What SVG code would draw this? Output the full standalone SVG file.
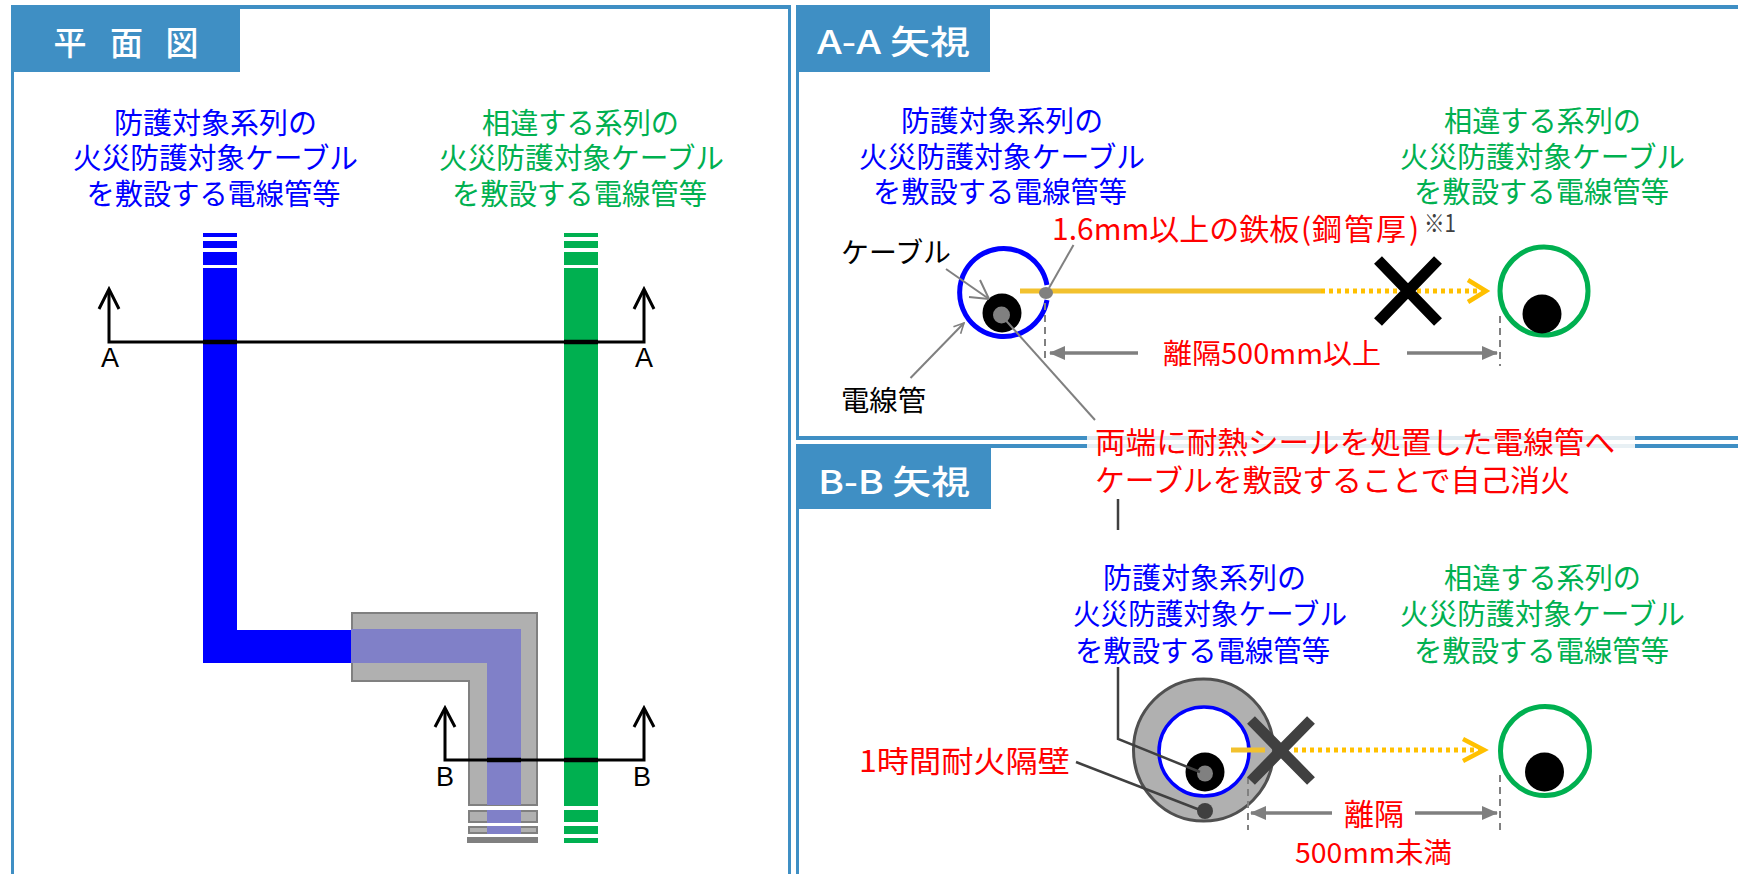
<svg xmlns="http://www.w3.org/2000/svg" width="1738" height="874" viewBox="0 0 1738 874">
<defs>
<marker id="open" viewBox="0 0 12 12" refX="11" refY="6" markerWidth="12" markerHeight="12" markerUnits="userSpaceOnUse" orient="auto"><path d="M1 1L11 6L1 11" fill="none" stroke="#808080" stroke-width="1.6"/></marker>
<marker id="solid" viewBox="0 0 16 14" refX="15" refY="7" markerWidth="16" markerHeight="14" markerUnits="userSpaceOnUse" orient="auto"><path d="M0 0L16 7L0 14Z" fill="#7f7f7f"/></marker>
</defs>
<style>
text{font-family:"Noto Sans CJK JP","Noto Sans",sans-serif;dominant-baseline:central}
.m{text-anchor:middle}
.b{fill:#0000ff;font-size:29px}.g{fill:#00b050;font-size:29px}.r{fill:#ff0000;font-size:30px}.r28{fill:#ff0000;font-size:28px}.k{fill:#000;font-size:28px}
.h{fill:#fff;font-size:33px;font-weight:500}
.s{font-family:"Liberation Sans",Arial,sans-serif;font-size:27px;fill:#000}
.frame{fill:#3f8fc4}
.sl{fill:none;stroke:#000;stroke-width:3}
.lead{fill:none;stroke:#808080;stroke-width:2}
.dark{fill:none;stroke:#404040;stroke-width:2.5}
.dash{fill:none;stroke:#808080;stroke-width:2;stroke-dasharray:7 5}
.dim{fill:none;stroke:#7f7f7f;stroke-width:3.5}
.og{fill:none;stroke:#f2c12e;stroke-width:5}
.od{fill:none;stroke:#ffc000;stroke-width:5;stroke-dasharray:4 4}
.oh{fill:none;stroke:#ffc000;stroke-width:4.5}
</style>
<rect width="1738" height="874" fill="#fff"/>

<g id="frames">
<rect class="frame" x="11" y="5" width="780" height="4"/>
<rect class="frame" x="11" y="5" width="3" height="869"/>
<rect class="frame" x="788" y="5" width="3" height="869"/>
<rect class="frame" x="796" y="5" width="942" height="4"/>
<rect class="frame" x="796" y="5" width="3" height="434"/>
<rect class="frame" x="796" y="436" width="291" height="4"/>
<rect class="frame" x="1635" y="436" width="103" height="4"/>
<rect class="frame" x="796" y="444" width="291" height="4"/>
<rect class="frame" x="1635" y="444" width="103" height="4"/>
<rect class="frame" x="796" y="444" width="3" height="430"/>
<rect x="1087" y="436" width="548" height="4" fill="#dfeaf0"/>
<rect x="1087" y="444" width="548" height="4" fill="#e8f0f4"/>
</g>

<g id="plan-header">
<rect class="frame" x="11" y="5" width="229" height="67"/>
<text class="h m" x="70" y="41">平</text>
<text class="h m" x="126.500" y="41">面</text>
<text class="h m" x="182" y="41">図</text>
</g>
<g id="aa-header">
<rect class="frame" x="796" y="5" width="194" height="67"/>
<text class="h" x="817" y="40" textLength="153" lengthAdjust="spacingAndGlyphs">A-A 矢視</text>
</g>
<g id="bb-header">
<rect class="frame" x="796" y="444" width="195" height="65"/>
<text class="h" x="818" y="480" textLength="152" lengthAdjust="spacingAndGlyphs">B-B 矢視</text>
</g>

<g id="plan-blue-label">
<text class="b" x="114" y="121" textLength="203" lengthAdjust="spacingAndGlyphs">防護対象系列の</text>
<text class="b" x="73" y="156" textLength="285" lengthAdjust="spacingAndGlyphs">火災防護対象ケーブル</text>
<text class="b" x="86.500" y="192" textLength="254" lengthAdjust="spacingAndGlyphs">を敷設する電線管等</text>
</g>
<g id="plan-green-label">
<text class="g" x="482" y="121" textLength="197" lengthAdjust="spacingAndGlyphs">相違する系列の</text>
<text class="g" x="439" y="156" textLength="285" lengthAdjust="spacingAndGlyphs">火災防護対象ケーブル</text>
<text class="g" x="452" y="192" textLength="255" lengthAdjust="spacingAndGlyphs">を敷設する電線管等</text>
</g>

<g id="blue-conduit" fill="#0000ff">
<rect x="203" y="233" width="34" height="4"/>
<rect x="203" y="241" width="34" height="7"/>
<rect x="203" y="252" width="34" height="13"/>
<path d="M203 268H237V630H351V663H203Z"/>
</g>
<g id="green-conduit" fill="#00b050">
<rect x="564" y="233" width="34" height="4"/>
<rect x="564" y="241" width="34" height="7"/>
<rect x="564" y="252" width="34" height="13"/>
<rect x="564" y="268" width="34" height="538"/>
<rect x="564" y="810" width="34" height="12"/>
<rect x="564" y="826" width="34" height="8"/>
<rect x="564" y="838" width="34" height="5"/>
</g>
<g id="fire-wall-conduit">
<path d="M352 613H537V805H469V681H352Z" fill="#b0b0b0" stroke="#808080" stroke-width="2"/>
<path d="M351 629H521V805H487V663H351Z" fill="#8080c8"/>
<rect x="469" y="811" width="68" height="11" fill="#b0b0b0" stroke="#808080" stroke-width="2"/>
<rect x="487" y="810" width="34" height="13" fill="#8080c8"/>
<rect x="469" y="827" width="68" height="6" fill="#b0b0b0" stroke="#808080" stroke-width="2"/>
<rect x="487" y="826" width="34" height="8" fill="#8080c8"/>
<rect x="467" y="837" width="71" height="6" fill="#808080"/>
</g>

<g id="section-lines">
<path class="sl" d="M109 290V342H644V290"/>
<path class="sl" d="M99 309L109 289L119 309M634 309L644 289L654 309"/>
<path class="sl" d="M445 709V760H644V709"/>
<path class="sl" d="M435 727L445 708L455 727M634 727L644 708L654 727"/>
<path d="M203 342H237M564 342H598M487 760H521M564 760H598" fill="none" stroke="#000" stroke-width="4.500"/>
<text class="s m" x="110" y="358">A</text>
<text class="s m" x="644" y="358">A</text>
<text class="s m" x="445" y="777">B</text>
<text class="s m" x="642" y="777">B</text>
</g>

<g id="aa-blue-label">
<text class="b" x="901" y="119" textLength="202" lengthAdjust="spacingAndGlyphs">防護対象系列の</text>
<text class="b" x="859" y="155" textLength="286" lengthAdjust="spacingAndGlyphs">火災防護対象ケーブル</text>
<text class="b" x="873" y="190" textLength="254" lengthAdjust="spacingAndGlyphs">を敷設する電線管等</text>
</g>
<g id="aa-green-label">
<text class="g" x="1444" y="119" textLength="197" lengthAdjust="spacingAndGlyphs">相違する系列の</text>
<text class="g" x="1400" y="155" textLength="285" lengthAdjust="spacingAndGlyphs">火災防護対象ケーブル</text>
<text class="g" x="1414" y="190" textLength="255" lengthAdjust="spacingAndGlyphs">を敷設する電線管等</text>
</g>

<g id="aa-conduit">
<path d="M1047 285A44 44 0 1 0 1047 300" fill="#fff" stroke="#0000ff" stroke-width="5"/>
<circle cx="1002" cy="313" r="19.500" fill="#000"/>
<circle cx="1001.500" cy="315" r="8.500" fill="#808080"/>
</g>
<g id="aa-green-conduit">
<circle cx="1544" cy="291" r="44" fill="#fff" stroke="#00b050" stroke-width="5"/>
<circle cx="1542" cy="314" r="19.500" fill="#000"/>
</g>

<g id="bb-conduit">
<ellipse cx="1203.500" cy="750" rx="70" ry="71" fill="#b0b0b0" stroke="#505050" stroke-width="3"/>
<ellipse cx="1204" cy="751.500" rx="45" ry="44.500" fill="#fff" stroke="#0000ff" stroke-width="3.500"/>
<circle cx="1205" cy="772" r="19.500" fill="#000"/>
<circle cx="1205" cy="773.500" r="8" fill="#808080"/>
<circle cx="1205" cy="811" r="8" fill="#404040"/>
</g>
<g id="bb-green-conduit">
<circle cx="1545" cy="751" r="44.500" fill="#fff" stroke="#00b050" stroke-width="5"/>
<circle cx="1544.500" cy="772" r="19.500" fill="#000"/>
</g>

<g id="connectors">
<path class="og" d="M1020 291H1321"/>
<path class="od" d="M1321 291H1484"/>
<path class="oh" d="M1468 280L1486 291L1468 302"/>
<ellipse cx="1046" cy="293" rx="7" ry="6" fill="#808080"/>
<path class="lead" d="M1073.500 245L1049 288"/>
<path class="lead" d="M946 269L989 299"/>
<path class="lead" d="M969 297L989 299M980 280L989 299"/>
<path class="lead" d="M910.500 378L964 323" marker-end="url(#open)"/>
<path class="lead" d="M1001 315L1095 420"/>
<path class="dash" d="M1045 303V363"/>
<path class="dash" d="M1500 316V366"/>
<path class="dim" d="M1138 353H1050" marker-end="url(#solid)"/>
<path class="dim" d="M1407 353H1497" marker-end="url(#solid)"/>

<path class="og" d="M1231 750H1265"/>
<path class="od" d="M1294 750H1481"/>
<path class="oh" d="M1463 739L1484 750L1463 761"/>
<path class="dark" d="M1118 499V530M1118 667V739L1200 772"/>
<path class="dark" d="M1076 762L1200 810"/>
<path class="dash" d="M1248 777V830"/>
<path class="dash" d="M1500 775V830"/>
<path class="dim" d="M1332 813H1251" marker-end="url(#solid)"/>
<path class="dim" d="M1415 813H1497" marker-end="url(#solid)"/>
</g>

<g id="aa-cross"><path d="M1378 260L1438 322M1438 260L1378 322" fill="none" stroke="#000" stroke-width="11"/></g>
<g id="bb-cross"><path d="M1251 720L1311 781M1311 720L1251 781" fill="none" stroke="#404040" stroke-width="11"/></g>

<g id="aa-labels">
<text class="r" x="1052" y="227">1.6mm以上の鉄板<tspan x="1301">(</tspan><tspan x="1312 1344 1376">鋼管厚</tspan><tspan x="1409">)</tspan></text>
<text x="1424" y="221" style="font-size:24px" fill="#404040" textLength="32" lengthAdjust="spacingAndGlyphs">※1</text>
<text class="k" x="841" y="251" textLength="110" lengthAdjust="spacingAndGlyphs">ケーブル</text>
<text class="k" x="841" y="399" textLength="85" lengthAdjust="spacingAndGlyphs">電線管</text>
<text class="r28" x="1163" y="352" textLength="218" lengthAdjust="spacingAndGlyphs">離隔500mm以上</text>
</g>
<g id="seal-label">
<text class="r" x="1095" y="440" textLength="520" lengthAdjust="spacingAndGlyphs">両端に耐熱シールを処置した電線管へ</text>
<text class="r" x="1095" y="478" textLength="475" lengthAdjust="spacingAndGlyphs">ケーブルを敷設することで自己消火</text>
</g>
<g id="bb-blue-label">
<text class="b" x="1103" y="576" textLength="203" lengthAdjust="spacingAndGlyphs">防護対象系列の</text>
<text class="b" x="1073" y="612" textLength="274" lengthAdjust="spacingAndGlyphs">火災防護対象ケーブル</text>
<text class="b" x="1075" y="649" textLength="255" lengthAdjust="spacingAndGlyphs">を敷設する電線管等</text>
</g>
<g id="bb-green-label">
<text class="g" x="1444" y="576" textLength="197" lengthAdjust="spacingAndGlyphs">相違する系列の</text>
<text class="g" x="1400" y="612" textLength="285" lengthAdjust="spacingAndGlyphs">火災防護対象ケーブル</text>
<text class="g" x="1414" y="649" textLength="255" lengthAdjust="spacingAndGlyphs">を敷設する電線管等</text>
</g>
<g id="bb-labels">
<text class="r" x="859" y="759" textLength="211" lengthAdjust="spacingAndGlyphs">1時間耐火隔壁</text>
<text class="r m" x="1374" y="812">離隔</text>
<text class="r28" x="1295" y="851" textLength="157" lengthAdjust="spacingAndGlyphs">500mm未満</text>
</g>
</svg>
